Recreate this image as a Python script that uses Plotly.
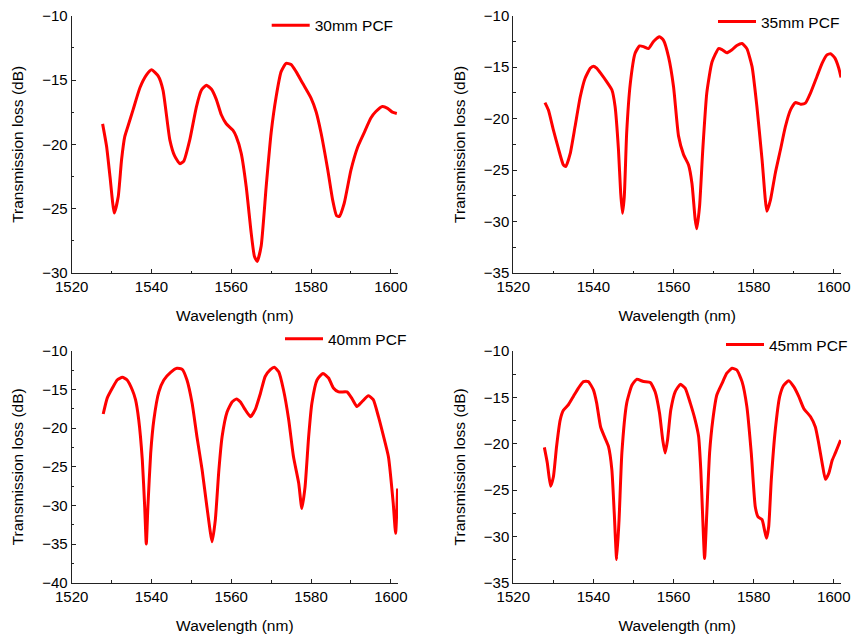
import plotly.graph_objects as go

# ---------------- data ----------------
wl_30 = [1527.75, 1528.75, 1529.6, 1530.67, 1531.67, 1532.5, 1533.3, 1534.2, 1535.4, 1537.1,
         1538.75, 1540.0, 1541.7, 1542.9, 1544.6, 1545.8, 1547.1, 1548.1, 1549.6, 1551.25,
         1552.5, 1553.75, 1555.0, 1556.25, 1557.5, 1558.75, 1560.4, 1561.25, 1562.5, 1563.75,
         1565.0, 1565.8, 1566.5, 1567.5, 1568.75, 1570.0, 1571.25, 1572.5, 1573.75, 1575.0,
         1576.25, 1577.9, 1580.0, 1581.25, 1582.5, 1584.2, 1585.4, 1586.4, 1587.1, 1588.3,
         1590.0, 1591.7, 1593.3, 1595.0, 1596.25, 1597.9, 1599.2, 1600.4, 1601.5]
loss_30 = [-18.41, -20.17, -22.5, -25.34, -24.05, -21.2, -19.4, -18.5, -17.3, -15.6,
           -14.6, -14.2, -14.7, -15.8, -19.65, -20.9, -21.5, -21.3, -19.65, -17.1,
           -15.8, -15.4, -15.7, -16.5, -17.7, -18.4, -18.9, -19.4, -20.7, -23.3,
           -26.9, -28.7, -29.1, -27.9, -23.3, -19.1, -16.3, -14.35, -13.7, -13.8,
           -14.35, -15.25, -16.4, -17.45, -19.1, -22.0, -24.3, -25.55, -25.6, -24.6,
           -22.0, -20.2, -19.1, -17.95, -17.45, -17.06, -17.2, -17.5, -17.6]

wl_35 = [1527.9, 1528.75, 1530.0, 1531.25, 1532.5, 1533.1, 1534.2, 1535.4, 1536.7, 1537.9,
         1539.2, 1540.0, 1540.8, 1542.1, 1543.3, 1544.6, 1545.4, 1546.25, 1546.8, 1547.25,
         1547.7, 1548.3, 1549.2, 1550.4, 1551.5, 1552.5, 1553.75, 1555.0, 1556.5, 1557.5,
         1558.75, 1560.0, 1561.25, 1562.5, 1563.75, 1564.6, 1565.4, 1565.8, 1566.5, 1567.3,
         1568.3, 1569.6, 1571.25, 1572.1, 1573.3, 1574.6, 1575.8, 1577.1, 1578.3, 1579.6,
         1580.8, 1582.1, 1583.3, 1584.2, 1585.4, 1586.7, 1587.9, 1589.2, 1590.4, 1591.7,
         1592.9, 1594.2, 1595.8, 1597.1, 1598.3, 1599.2, 1600.25, 1601.25, 1601.8]
loss_35 = [-18.44, -19.15, -21.1, -22.9, -24.5, -24.65, -23.4, -20.8, -17.9, -16.1,
           -15.1, -14.9, -15.1, -15.75, -16.4, -17.2, -18.8, -23.0, -27.2, -29.2,
           -27.6, -21.4, -16.6, -13.65, -12.94, -13.0, -13.2, -12.5, -12.04, -12.4,
           -14.0, -16.9, -21.7, -23.5, -24.5, -26.3, -29.8, -30.7, -28.5, -23.0,
           -17.5, -14.5, -13.2, -13.3, -13.6, -13.3, -12.9, -12.7, -13.2, -14.95,
           -18.8, -24.0, -29.0, -27.9, -25.3, -23.0, -20.8, -19.15, -18.44, -18.6,
           -18.5, -17.5, -15.9, -14.6, -13.8, -13.7, -14.1, -15.1, -16.0]

wl_40 = [1527.9, 1528.9, 1530.2, 1531.4, 1532.7, 1533.9, 1535.2, 1536.0, 1536.8, 1537.7,
         1538.3, 1538.7, 1539.1, 1539.8, 1540.6, 1541.85, 1543.1, 1544.8, 1546.4, 1547.7,
         1548.9, 1550.2, 1551.4, 1552.7, 1553.9, 1555.2, 1556.0, 1556.9, 1557.7, 1558.95,
         1560.2, 1561.3, 1562.3, 1563.5, 1564.8, 1566.0, 1567.3, 1568.5, 1569.8, 1570.8,
         1571.9, 1573.1, 1574.4, 1575.6, 1576.9, 1577.7, 1578.5, 1579.4, 1580.2, 1581.5,
         1583.0, 1584.4, 1585.6, 1586.9, 1589.0, 1590.2, 1591.5, 1592.7, 1594.4, 1595.6,
         1596.9, 1598.1, 1599.4, 1600.6, 1601.2, 1601.7]
loss_40 = [-18.16, -16.1, -14.8, -13.75, -13.4, -13.75, -15.05, -16.3, -18.9, -24.1,
           -30.2, -35.0, -30.2, -23.25, -18.9, -15.3, -13.75, -12.76, -12.24, -12.37,
           -13.75, -16.8, -21.1, -25.4, -30.2, -34.7, -31.9, -25.4, -21.1, -17.9,
           -16.6, -16.2, -16.6, -17.6, -18.5, -17.6, -15.5, -13.3, -12.4, -12.1,
           -12.7, -15.05, -18.9, -23.7, -27.1, -30.4, -27.6, -21.1, -16.8, -13.75,
           -12.9, -13.5, -14.8, -15.3, -15.3, -16.1, -17.2, -16.6, -15.8, -16.3,
           -18.5, -20.9, -23.7, -29.7, -33.6, -27.8]

wl_45 = [1527.75, 1528.5, 1529.3, 1530.0, 1530.8, 1531.7, 1532.5, 1533.75, 1535.0, 1536.25,
         1537.5, 1538.75, 1540.0, 1540.8, 1541.8, 1542.9, 1543.75, 1544.6, 1545.2, 1545.8,
         1546.4, 1547.1, 1548.3, 1549.6, 1550.8, 1552.5, 1554.2, 1555.4, 1556.5, 1557.3,
         1557.9, 1558.5, 1559.3, 1560.4, 1561.7, 1562.9, 1564.2, 1565.4, 1566.25, 1566.8,
         1567.3, 1567.75, 1568.3, 1569.0, 1569.8, 1570.8, 1572.1, 1573.3, 1574.6, 1575.8,
         1577.1, 1578.3, 1579.4, 1580.4, 1581.1, 1582.1, 1582.7, 1583.2, 1583.75, 1584.4,
         1585.4, 1586.5, 1587.5, 1588.75, 1590.0, 1591.25, 1592.5, 1594.2, 1595.4, 1596.25,
         1597.1, 1597.9, 1598.75, 1599.6, 1600.4, 1601.7]
loss_45 = [-20.4, -22.1, -24.6, -23.6, -20.3, -17.45, -16.4, -15.8, -14.9, -14.0,
           -13.3, -13.3, -14.2, -15.6, -18.2, -19.4, -20.3, -22.8, -27.5, -32.5,
           -28.2, -21.0, -15.65, -13.7, -13.06, -13.3, -13.4, -14.4, -16.7, -19.6,
           -21.0, -19.6, -16.4, -14.4, -13.6, -14.0, -15.65, -17.45, -19.2, -22.8,
           -28.2, -32.4, -27.5, -21.0, -17.45, -14.75, -13.5, -12.4, -11.87, -12.05,
           -13.3, -16.0, -21.0, -26.8, -27.9, -28.2, -29.3, -30.2, -28.96, -23.9,
           -18.5, -14.9, -13.7, -13.2, -13.85, -14.9, -16.2, -17.1, -18.2, -20.0,
           -22.1, -23.85, -23.2, -21.8, -21.0, -19.6]

series_names = ["30mm PCF", "35mm PCF", "40mm PCF", "45mm PCF"]
y_ranges = [[-30, -10], [-35, -10], [-40, -10], [-35, -10]]
x_range = [1520, 1601.8]
x_title = "Wavelength (nm)"
y_title = "Transmission loss (dB)"

# ---------------- layout geometry (pixels of the 855x637 page) ----------------
W, H = 855, 637
cols_px = [(71.7, 398.0), (513.3, 841.0)]
rows_px = [(15.7, 273.0), (351.0, 582.7)]
# target start of each legend sample line (px) and its vertical centre
legend_px = [(271.7, 25.7), (718.0, 22.0), (285.0, 339.3), (726.0, 345.0)]

data = [(wl_30, loss_30), (wl_35, loss_35), (wl_40, loss_40), (wl_45, loss_45)]

fig = go.Figure()
FONT = "Liberation Sans, Arial, sans-serif"
layout = dict(
    width=W, height=H,
    margin=dict(l=0, r=0, t=0, b=0, autoexpand=False),
    paper_bgcolor="white", plot_bgcolor="white",
    font=dict(family=FONT, size=15, color="black"),
    showlegend=True,
)

for i, (xs, ys) in enumerate(data):
    r, c = divmod(i, 2)
    sfx = "" if i == 0 else str(i + 1)
    leg = "legend" if i == 0 else f"legend{i + 1}"
    fig.add_trace(go.Scatter(
        x=xs, y=ys, mode="lines", name=series_names[i],
        line=dict(color="#ff0000", width=3, shape="spline", smoothing=0.5),
        xaxis="x" + sfx, yaxis="y" + sfx, legend=leg,
    ))
    x0, x1 = cols_px[c]
    y0, y1 = rows_px[r]
    axis_common = dict(
        showline=True, linecolor="#222222", linewidth=1, mirror=False,
        showgrid=False, zeroline=False, automargin=True,
        ticks="inside", ticklen=4, tickwidth=1, tickcolor="#222222",
        tickfont=dict(family=FONT, size=15, color="black"),
    )
    layout["xaxis" + sfx] = dict(
        domain=[x0 / W, x1 / W], anchor="y" + sfx, range=x_range,
        tickmode="linear", tick0=1520, dtick=20,
        minor=dict(ticks="inside", ticklen=2.5, dtick=10, tickcolor="#222222"),
        title=dict(text=x_title, standoff=16,
                   font=dict(family=FONT, size=15.5, color="black")),
        **axis_common,
    )
    layout["yaxis" + sfx] = dict(
        domain=[1 - y1 / H, 1 - y0 / H], anchor="x" + sfx, range=y_ranges[i],
        tickmode="linear", tick0=-10, dtick=5,
        minor=dict(ticks="inside", ticklen=2.5, dtick=2.5, tickcolor="#222222"),
        title=dict(text=y_title, standoff=14,
                   font=dict(family=FONT, size=15.5, color="black")),
        **axis_common,
    )
    lx, ly = legend_px[i]
    layout[leg] = dict(
        x=(lx - 5) / W, y=1 - ly / H, xanchor="left", yanchor="middle",
        orientation="h", entrywidth=84, entrywidthmode="pixels", itemwidth=38,
        bgcolor="rgba(0,0,0,0)", borderwidth=0,
        font=dict(family=FONT, size=15.5, color="black"),
    )

fig.update_layout(**layout)
fig.write_html("out.html")
